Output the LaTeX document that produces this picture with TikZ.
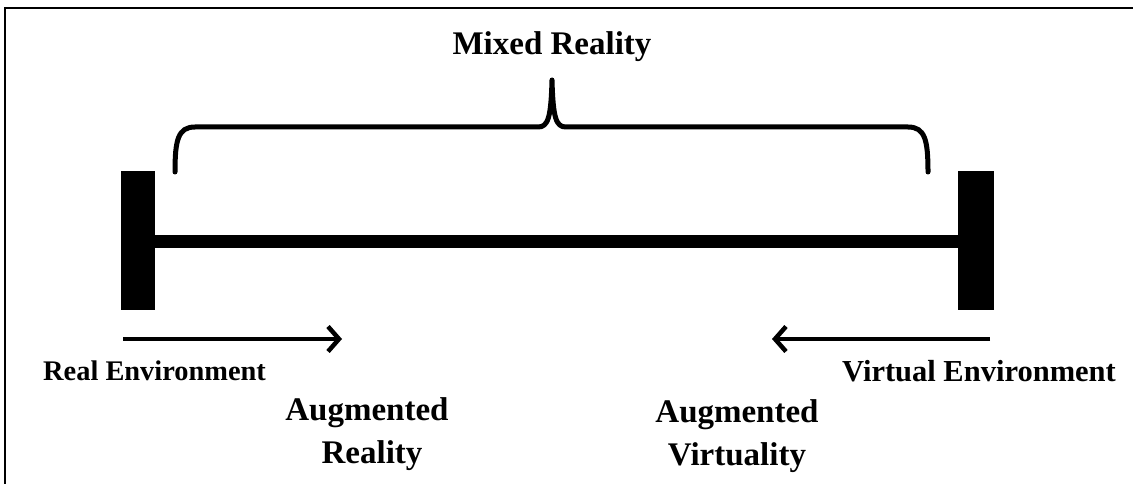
\documentclass[tikz,border=0pt]{standalone}
\usepackage{fontspec}
\setmainfont{Liberation Serif}
\usetikzlibrary{arrows.meta}
\tikzset{
  lbl/.style={inner sep=0pt, font=\bfseries},
  bigl/.style={lbl, font=\fontsize{33}{35}\selectfont\bfseries},
  realfont/.style={lbl, font=\fontsize{28.4}{31}\selectfont\bfseries},
  virtfont/.style={lbl, font=\fontsize{30.5}{31}\selectfont\bfseries},
  bar/.style={fill=black, draw=none},
  bracel/.style={line width=5pt, line cap=round, line join=round},
  arr/.style={line width=4.5pt, -{Straight Barb[length=11pt,width=25pt]}},
}
\begin{document}
\begin{tikzpicture}[x=1pt,y=-1pt]
\useasboundingbox (0,0) rectangle (1133,484);
% frame
\draw[line width=2pt] (1134,8) -- (5,8) -- (5,485);
% bars
\fill[bar] (121,171) rectangle (155,310);
\fill[bar] (958,171) rectangle (994,310);
\fill[bar] (150,234.5) rectangle (963,247.5);
% brace
\draw[bracel] (175,172) .. controls (175,140) and (178,127) .. (195,127)
  -- (538,127) .. controls (548,127) and (551,118) .. (552,80)
  .. controls (553,118) and (556,127) .. (566,127)
  -- (908,127) .. controls (925,127) and (928,140) .. (928,172);
% labels
\node[bigl, anchor=base] (mr) at (552,55) {Mixed Reality};
\node[realfont, anchor=base west] (re) at (43,380) {Real Environment};
\node[virtfont, anchor=base east] (ve) at (1116,381) {Virtual Environment};
\node[bigl, anchor=base] (ar1) at (367,420) {Augmented};
\node[bigl, anchor=base] (ar2) at (372,463) {Reality};
\node[bigl, anchor=base] (av1) at (737,422) {Augmented};
\node[bigl, anchor=base] (av2) at (737,465) {Virtuality};
% arrows
\coordinate (a1s) at (123,339);
\coordinate (a1e) at (342,339);
\coordinate (a2s) at (990,339);
\coordinate (a2e) at (772,339);
\draw[arr] (a1s) -- (a1e);
\draw[arr] (a2s) -- (a2e);
\end{tikzpicture}
\end{document}
